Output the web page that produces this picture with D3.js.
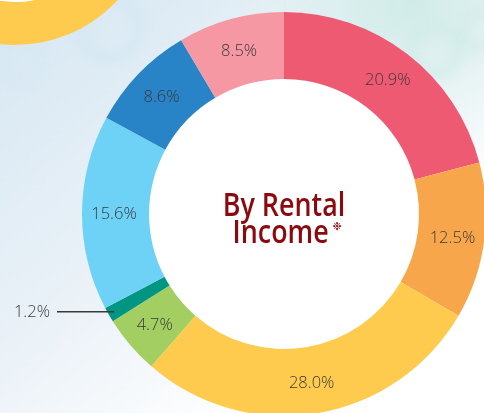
<!DOCTYPE html>
<html>
<head>
<meta charset="utf-8">
<script src="https://cdn.jsdelivr.net/npm/d3@7"></script>
<style>
  html, body { margin: 0; padding: 0; background: #fff; }
  svg { display: block; }
</style>
</head>
<body>
<div id="chart"></div>
<script>
// Rental income split, clockwise from 12 o'clock
const values = [20.9, 12.5, 28.0, 4.7, 1.2, 15.6, 8.6, 8.5];
const colors = ['#EF5A73', '#F8A64B', '#FECB4F', '#A3CF62', '#009681', '#6ED1F6', '#2884C6', '#F598A3'];
const labels = values.map(v => v.toFixed(1) + '%');
const calloutIndex = 4; // the thin slice gets a leader line
const titleLines = ['By Rental', 'Income'];

const width = 484, height = 413;
const cx = 284, cy = 214;
const outerR = 202, innerR = 135;

const svg = d3.select('#chart').append('svg')
  .attr('width', width)
  .attr('height', height);

const defs = svg.append('defs');

const bg = defs.append('linearGradient')
  .attr('id', 'bg').attr('x1', 0).attr('y1', 0).attr('x2', 1).attr('y2', 1);
bg.append('stop').attr('offset', '0%').attr('stop-color', '#D6E7F2');
bg.append('stop').attr('offset', '45%').attr('stop-color', '#EBF2F8');
bg.append('stop').attr('offset', '75%').attr('stop-color', '#FFFFFF');

const glow = defs.append('radialGradient')
  .attr('id', 'glow').attr('cx', '85%').attr('cy', '0%').attr('r', '45%');
glow.append('stop').attr('offset', '0%').attr('stop-color', '#CFEBE8').attr('stop-opacity', 1);
glow.append('stop').attr('offset', '100%').attr('stop-color', '#E8F4F4').attr('stop-opacity', 0);

defs.append('filter').attr('id', 'blur')
  .attr('x', '-50%').attr('y', '-50%').attr('width', '200%').attr('height', '200%')
  .append('feGaussianBlur').attr('stdDeviation', 6);

// background
svg.append('rect').attr('width', width).attr('height', height).attr('fill', 'url(#bg)');
svg.append('rect').attr('width', width).attr('height', height).attr('fill', 'url(#glow)');

// soft bubbles
const bubbles = svg.append('g').attr('filter', 'url(#blur)');
[[110, 28, 30, '#CFE6F2'], [20, 60, 22, '#D6E9F4'], [435, 50, 24, '#CDEBE6'],
 [380, 8, 20, '#D2EDEA'], [480, 30, 18, '#CFEBE5']].forEach(b => {
  bubbles.append('circle')
    .attr('cx', b[0]).attr('cy', b[1]).attr('r', b[2])
    .attr('fill', 'none').attr('stroke', b[3]).attr('stroke-width', 8).attr('opacity', 0.8);
});

// decorative yellow ring, top-left
svg.append('circle').attr('cx', 15).attr('cy', -95).attr('r', 140).attr('fill', '#FECB4F');
svg.append('circle').attr('cx', 15).attr('cy', -95).attr('r', 97).attr('fill', '#FFFFFF');

const g = svg.append('g').attr('transform', `translate(${cx},${cy})`);

const pie = d3.pie().sort(null).value(d => d);
const arcs = pie(values);

const arc = d3.arc().innerRadius(innerR).outerRadius(outerR);
const labelArc = d3.arc().innerRadius(170).outerRadius(170);
const leaderArc = d3.arc().innerRadius(196).outerRadius(196);

// inner white disc
g.append('circle').attr('r', innerR).attr('fill', '#FFFFFF');

g.selectAll('.slice')
  .data(arcs)
  .enter()
  .append('path')
  .attr('class', 'slice')
  .attr('d', arc)
  .attr('fill', (d, i) => colors[i]);

g.selectAll('.label')
  .data(arcs.filter((d, i) => i !== calloutIndex))
  .enter()
  .append('text')
  .attr('class', 'label')
  .attr('transform', d => `translate(${labelArc.centroid(d)})`)
  .attr('text-anchor', 'middle')
  .attr('dy', '0.35em')
  .attr('font-family', '"Open Sans", "Noto Sans", sans-serif')
  .attr('font-weight', 300)
  .attr('font-size', '16.5px')
  .attr('fill', '#3A3A3A')
  .text(d => labels[d.index]);

// leader line for the thin slice
const c = arcs[calloutIndex];
const p = leaderArc.centroid(c);
const lineEndX = -227;
g.append('line')
  .attr('x1', p[0]).attr('y1', p[1])
  .attr('x2', lineEndX).attr('y2', p[1])
  .attr('stroke', '#3A3A3A')
  .attr('stroke-width', 1.5);
g.append('text')
  .attr('x', lineEndX - 7)
  .attr('y', p[1])
  .attr('dy', '0.35em')
  .attr('text-anchor', 'end')
  .attr('font-family', '"Open Sans", "Noto Sans", sans-serif')
  .attr('font-weight', 300)
  .attr('font-size', '16.5px')
  .attr('fill', '#3A3A3A')
  .text(labels[calloutIndex]);

// centre title, squeezed horizontally to mimic a narrow face
const titleG = g.append('g').attr('transform', 'scale(0.84,1)');
const titleFont = '"Open Sans", "Noto Sans", sans-serif';
titleG.append('text')
  .attr('x', 0).attr('y', 2)
  .attr('text-anchor', 'middle')
  .attr('font-family', titleFont)
  .attr('font-weight', 600)
  .attr('font-size', '32px')
  .attr('fill', '#8C0A0F')
  .text(titleLines[0]);
titleG.append('text')
  .attr('x', -4).attr('y', 29)
  .attr('text-anchor', 'middle')
  .attr('font-family', titleFont)
  .attr('font-weight', 600)
  .attr('font-size', '32px')
  .attr('fill', '#8C0A0F')
  .text(titleLines[1]);
g.append('text')
  .attr('x', 53).attr('y', 16)
  .attr('text-anchor', 'middle')
  .attr('font-family', '"DejaVu Sans", sans-serif')
  .attr('font-size', '11px')
  .attr('fill', '#8C0A0F')
  .text('❉');
</script>
</body>
</html>
